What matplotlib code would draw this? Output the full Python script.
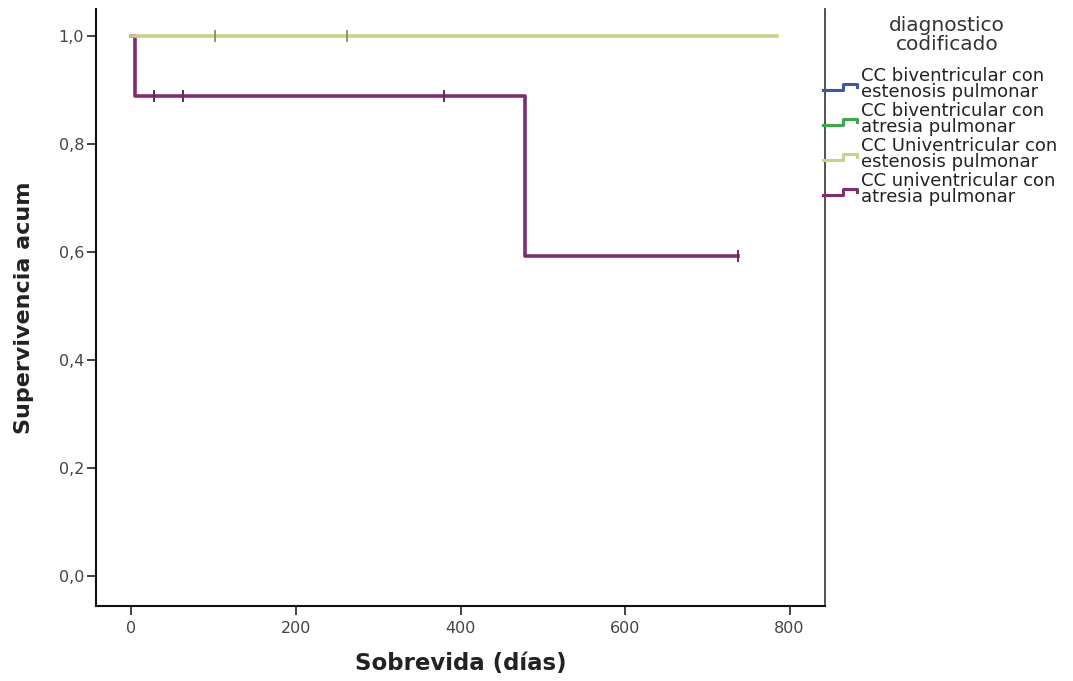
import matplotlib
matplotlib.use("Agg")
import matplotlib.pyplot as plt
from matplotlib.lines import Line2D

plt.rcParams['font.family'] = ['DejaVu Sans']

# ---- data ----
groups = ["CC biventricular con\nestenosis pulmonar",
          "CC biventricular con\natresia pulmonar",
          "CC Univentricular con\nestenosis pulmonar",
          "CC univentricular con\natresia pulmonar"]
colors = ["#3d55a6", "#3aaa4a", "#cbd088", "#7f2c72"]

# step curves (time, survival)
biv_est_t = [0, 3]
biv_est_s = [1.0, 1.0]
biv_atr_t = [0, 3]
biv_atr_s = [1.0, 1.0]
univ_est_t = [0, 785]
univ_est_s = [1.0, 1.0]
univ_est_cens_t = [102, 262]
univ_est_cens_s = [1.0, 1.0]
univ_atr_t = [0, 4, 478, 737]
univ_atr_s = [1.0, 0.889, 0.593, 0.593]
univ_atr_cens_t = [28, 63, 380, 737]
univ_atr_cens_s = [0.889, 0.889, 0.889, 0.593]

xticks = [0, 200, 400, 600, 800]
yticks = [0.0, 0.2, 0.4, 0.6, 0.8, 1.0]
ytick_labels = ["0,0", "0,2", "0,4", "0,6", "0,8", "1,0"]

W, H = 1073, 681
fig = plt.figure(figsize=(W / 100, H / 100), dpi=100)
ax = fig.add_axes([96 / W, 1 - 606 / H, (825 - 96) / W, (606 - 9) / H])

ax.step(biv_est_t, biv_est_s, where="post", color=colors[0], lw=2.2)
ax.step(biv_atr_t, biv_atr_s, where="post", color=colors[1], lw=2.2)
ax.step(univ_atr_t, univ_atr_s, where="post", color=colors[3], lw=2.6, zorder=3)
ax.step(univ_est_t, univ_est_s, where="post", color=colors[2], lw=2.6, zorder=4)
ax.plot(univ_est_cens_t, univ_est_cens_s, ls="none", marker="|", ms=9, mew=1.4,
        color="#8f9560", zorder=5)
ax.plot(univ_atr_cens_t, univ_atr_cens_s, ls="none", marker="|", ms=9, mew=1.4,
        color="#6a2560", zorder=5)

ax.set_xlim(-43, 843)
ax.set_ylim(-0.0556, 1.0495)
ax.set_xticks(xticks)
ax.set_xticklabels([str(v) for v in xticks])
ax.set_yticks(yticks)
ax.set_yticklabels(ytick_labels)
ax.tick_params(axis="both", labelsize=11.5, colors="#222222", length=6.5, width=1.2,
               labelcolor="#444444", pad=2)
ax.tick_params(axis="x", pad=4)
ax.spines["top"].set_visible(False)
for s in ["left", "bottom"]:
    ax.spines[s].set_linewidth(1.5)
    ax.spines[s].set_color("#111111")
ax.spines["right"].set_linewidth(1.3)
ax.spines["right"].set_color("#444444")

ax.set_xlabel("Sobrevida (días)", fontsize=16.5, fontweight="bold", color="#222222",
              labelpad=12)
ax.set_ylabel("Supervivencia acum", fontsize=16, fontweight="bold", color="#222222",
              labelpad=18)

# ---- legend ----
fig.text(947 / W, 1 - 35 / H, "diagnostico\ncodificado", ha="center", va="center",
         fontsize=14.5, color="#333333", linespacing=0.95)
entry_y = [84, 119, 154, 189]
for g, c, yc in zip(groups, colors, entry_y):
    fy = 1 - yc / H
    dy = 3 / H
    xs = [823 / W, 843 / W, 843 / W, 857 / W, 857 / W]
    ys = [fy - 2 * dy, fy - 2 * dy, fy, fy, fy - dy]
    fig.add_artist(Line2D(xs, ys, color=c, lw=2.2, transform=fig.transFigure))
    fig.text(861 / W, fy, g, ha="left", va="center", fontsize=13, color="#222222",
             linespacing=0.92)

fig.savefig("out.png", dpi=100, facecolor="white")
